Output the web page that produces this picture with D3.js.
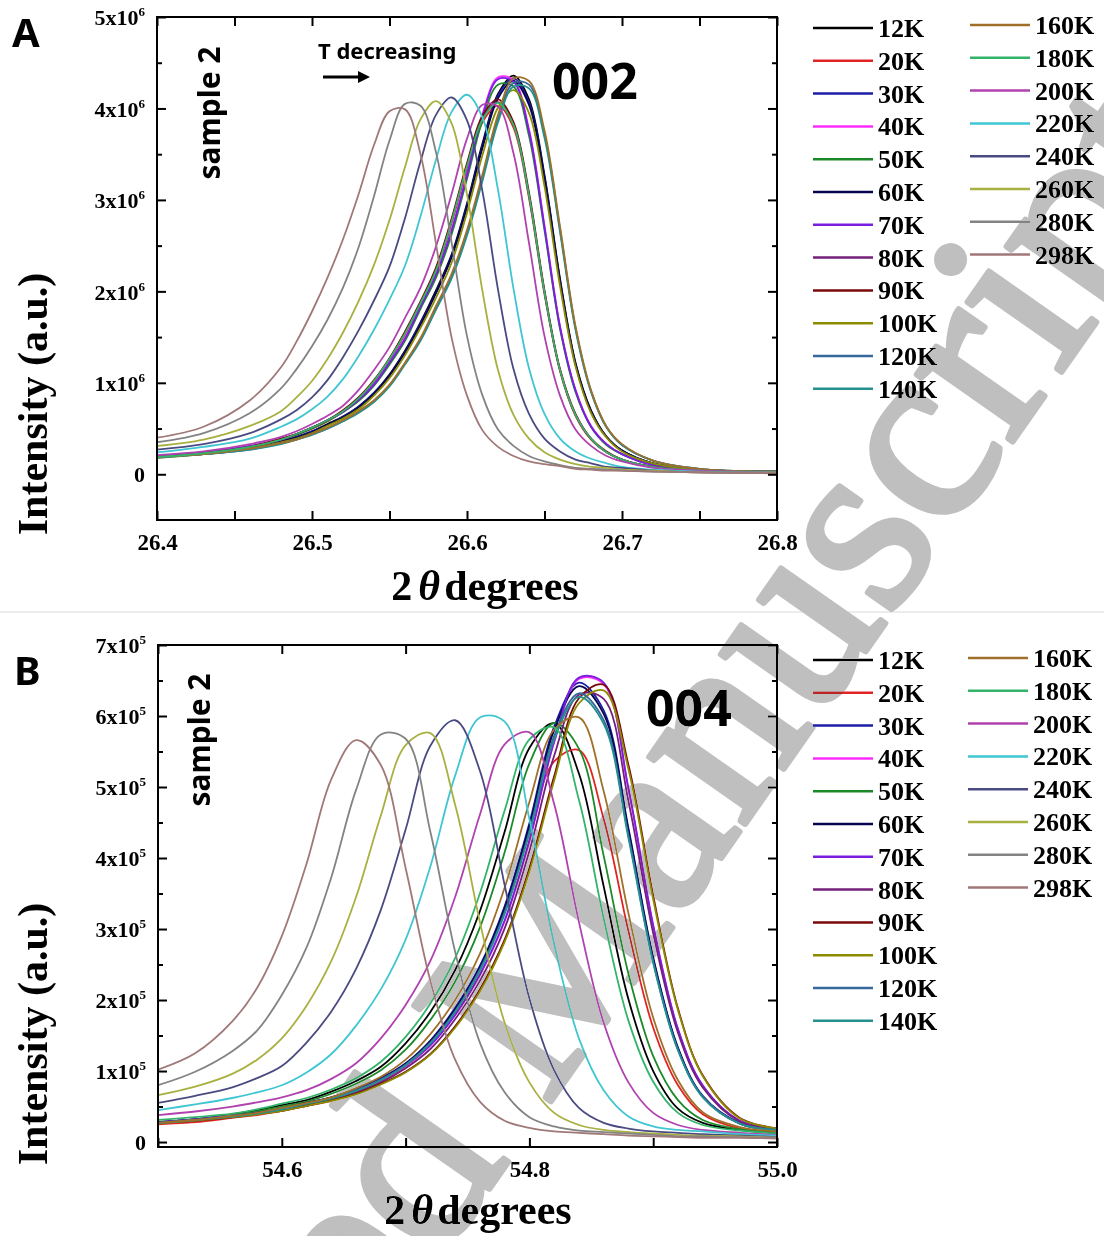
<!DOCTYPE html>
<html>
<head>
<meta charset="utf-8">
<script src="https://cdn.jsdelivr.net/npm/d3@7"></script>
<style>
  body { margin: 0; background: #fff; }
  svg { display: block; }
</style>
</head>
<body>
<svg id="fig" width="1104" height="1236"></svg>
<script>
// Temperatures and line colours (legend order)
const temps = ["12K","20K","30K","40K","50K","60K","70K","80K","90K","100K","120K","140K",
               "160K","180K","200K","220K","240K","260K","280K","298K"];
const lineColors = ["#000000","#e02424","#1c1ca8","#ff2cff","#1d8a2a","#06064e","#7a1ee0","#74207a",
                    "#7a0a0a","#8c8c00","#36689a","#23908f","#a0702a","#32b46a","#b042b0","#40c6d2",
                    "#4a4a82","#a8b040","#838383","#a07878"];

// (002) peak: 2theta grid and intensities in units of 1e6
const twoThetaA = [26.40,26.43,26.46,26.48,26.49,26.50,26.51,26.52,26.53,26.54,26.55,26.56,26.57,26.58,26.59,
                   26.60,26.61,26.62,26.63,26.64,26.65,26.66,26.67,26.68,26.69,26.70,26.72,26.75,26.80];
const A_12K  = [0.19,0.23,0.29,0.36,0.41,0.47,0.55,0.63,0.74,0.89,1.09,1.35,1.66,2.01,2.40,2.96,3.62,4.16,4.36,4.10,3.27,2.14,1.22,0.70,0.41,0.26,0.12,0.05,0.03];
const A_20K  = [0.19,0.23,0.30,0.38,0.44,0.50,0.58,0.69,0.83,1.01,1.25,1.53,1.85,2.22,2.74,3.34,3.85,4.03,3.79,3.02,1.97,1.13,0.64,0.38,0.24,0.16,0.08,0.04,0.02];
const A_30K  = [0.19,0.23,0.29,0.36,0.41,0.47,0.54,0.63,0.74,0.89,1.08,1.34,1.65,1.99,2.38,2.94,3.59,4.14,4.33,4.07,3.25,2.12,1.21,0.69,0.41,0.26,0.12,0.05,0.03];
const A_40K  = [0.20,0.24,0.31,0.39,0.44,0.51,0.59,0.69,0.81,0.99,1.23,1.49,1.84,2.19,2.67,3.29,3.94,4.34,4.31,3.77,2.72,1.62,0.92,0.53,0.33,0.22,0.11,0.05,0.02];
const A_50K  = [0.19,0.23,0.30,0.38,0.43,0.50,0.58,0.68,0.80,0.97,1.20,1.46,1.81,2.15,2.62,3.23,3.87,4.26,4.24,3.70,2.67,1.59,0.90,0.52,0.32,0.22,0.10,0.05,0.02];
const A_60K  = [0.19,0.22,0.28,0.36,0.40,0.46,0.54,0.62,0.73,0.88,1.08,1.33,1.63,1.98,2.37,2.92,3.57,4.11,4.30,4.04,3.23,2.11,1.20,0.69,0.41,0.26,0.12,0.05,0.03];
const A_70K  = [0.20,0.24,0.31,0.38,0.44,0.51,0.59,0.68,0.81,0.98,1.22,1.48,1.83,2.18,2.66,3.27,3.92,4.32,4.29,3.75,2.70,1.61,0.92,0.52,0.33,0.22,0.10,0.05,0.02];
const A_80K  = [0.19,0.23,0.30,0.38,0.44,0.51,0.59,0.69,0.83,1.02,1.26,1.55,1.87,2.24,2.77,3.38,3.89,4.07,3.83,3.05,1.99,1.14,0.65,0.39,0.24,0.16,0.08,0.04,0.02];
const A_90K  = [0.19,0.23,0.30,0.39,0.44,0.51,0.59,0.70,0.84,1.03,1.27,1.56,1.89,2.26,2.79,3.40,3.92,4.10,3.85,3.08,2.01,1.15,0.66,0.39,0.25,0.16,0.08,0.04,0.02];
const A_100K = [0.18,0.22,0.28,0.35,0.39,0.45,0.53,0.61,0.71,0.86,1.05,1.30,1.60,1.93,2.31,2.86,3.49,4.01,4.20,3.95,3.15,2.06,1.18,0.67,0.40,0.25,0.12,0.05,0.03];
const A_120K = [0.19,0.22,0.27,0.34,0.38,0.44,0.50,0.58,0.68,0.80,0.97,1.21,1.47,1.81,2.16,2.64,3.24,3.89,4.28,4.26,3.72,2.68,1.60,0.91,0.52,0.32,0.15,0.06,0.03];
const A_140K = [0.18,0.22,0.27,0.33,0.38,0.43,0.50,0.58,0.67,0.79,0.96,1.20,1.46,1.80,2.14,2.61,3.21,3.85,4.24,4.22,3.68,2.65,1.58,0.90,0.51,0.32,0.15,0.06,0.03];
const A_160K = [0.19,0.22,0.28,0.34,0.38,0.44,0.51,0.59,0.69,0.81,0.98,1.22,1.49,1.84,2.19,2.67,3.28,3.93,4.33,4.30,3.76,2.71,1.62,0.92,0.52,0.33,0.15,0.06,0.03];
const A_180K = [0.19,0.23,0.30,0.38,0.44,0.51,0.59,0.69,0.83,1.02,1.26,1.54,1.87,2.23,2.76,3.37,3.88,4.06,3.82,3.05,1.99,1.14,0.65,0.39,0.24,0.16,0.08,0.04,0.02];
const A_200K = [0.21,0.25,0.33,0.41,0.47,0.55,0.64,0.75,0.92,1.14,1.39,1.71,2.04,2.49,3.06,3.67,4.04,4.02,3.51,2.53,1.51,0.86,0.49,0.31,0.20,0.14,0.07,0.04,0.02];
const A_220K = [0.24,0.30,0.39,0.52,0.60,0.71,0.85,1.04,1.29,1.58,1.91,2.28,2.82,3.44,3.96,4.15,3.90,3.11,2.03,1.16,0.66,0.39,0.25,0.17,0.12,0.08,0.05,0.03,0.02];
const A_240K = [0.27,0.33,0.45,0.60,0.70,0.84,1.03,1.28,1.57,1.90,2.27,2.80,3.42,3.93,4.12,3.87,3.09,2.02,1.15,0.66,0.39,0.25,0.16,0.12,0.08,0.07,0.04,0.02,0.02];
const A_260K = [0.31,0.38,0.53,0.69,0.84,1.02,1.26,1.55,1.89,2.29,2.78,3.36,3.88,4.08,3.84,3.06,2.00,1.14,0.65,0.39,0.24,0.16,0.11,0.08,0.07,0.05,0.04,0.02,0.02];
const A_280K = [0.35,0.45,0.67,0.94,1.15,1.40,1.69,2.04,2.48,3.04,3.65,4.05,4.03,3.52,2.54,1.51,0.86,0.49,0.31,0.20,0.14,0.10,0.07,0.06,0.05,0.04,0.03,0.02,0.01];
const A_298K = [0.40,0.52,0.81,1.17,1.45,1.78,2.15,2.57,3.06,3.60,3.97,3.99,3.50,2.52,1.50,0.86,0.48,0.30,0.20,0.14,0.11,0.09,0.06,0.05,0.04,0.04,0.03,0.02,0.01];

// (004) peak: 2theta grid and intensities in units of 1e5
const twoThetaB = [54.50,54.53,54.56,54.58,54.60,54.62,54.64,54.66,54.68,54.70,54.72,54.74,
                   54.76,54.78,54.80,54.82,54.84,54.86,54.88,54.90,54.92,54.94,54.97,55.00];
const B_12K  = [0.28,0.32,0.39,0.45,0.52,0.59,0.71,0.86,1.06,1.39,1.83,2.42,3.25,4.37,5.55,5.90,5.19,3.60,2.01,1.00,0.47,0.27,0.17,0.13];
const B_20K  = [0.25,0.28,0.34,0.38,0.44,0.51,0.58,0.70,0.85,1.07,1.40,1.84,2.44,3.30,4.41,5.36,5.52,4.55,2.97,1.61,0.80,0.39,0.19,0.14];
const B_30K  = [0.28,0.32,0.37,0.42,0.47,0.55,0.63,0.75,0.90,1.11,1.43,1.89,2.48,3.32,4.49,5.85,6.47,6.08,4.42,2.60,1.33,0.65,0.27,0.18];
const B_40K  = [0.28,0.32,0.36,0.41,0.46,0.54,0.62,0.73,0.87,1.07,1.36,1.79,2.35,3.11,4.24,5.63,6.52,6.45,4.97,3.05,1.59,0.79,0.30,0.19];
const B_50K  = [0.28,0.32,0.38,0.43,0.50,0.57,0.68,0.82,1.01,1.30,1.72,2.26,3.02,4.08,5.33,5.90,5.54,4.03,2.37,1.21,0.59,0.31,0.18,0.14];
const B_60K  = [0.28,0.32,0.37,0.41,0.47,0.55,0.63,0.74,0.89,1.10,1.42,1.87,2.46,3.29,4.45,5.80,6.42,6.03,4.39,2.58,1.32,0.64,0.26,0.17];
const B_70K  = [0.28,0.32,0.37,0.41,0.46,0.54,0.62,0.73,0.88,1.08,1.36,1.79,2.36,3.12,4.25,5.64,6.54,6.47,4.98,3.05,1.59,0.80,0.30,0.19];
const B_80K  = [0.27,0.31,0.35,0.40,0.45,0.52,0.60,0.70,0.84,1.04,1.31,1.73,2.27,3.01,4.10,5.44,6.30,6.24,4.80,2.94,1.54,0.77,0.29,0.18];
const B_90K  = [0.27,0.30,0.35,0.40,0.44,0.51,0.59,0.68,0.82,0.99,1.24,1.63,2.15,2.85,3.86,5.15,6.25,6.44,5.31,3.47,1.88,0.94,0.34,0.19];
const B_100K = [0.26,0.30,0.35,0.39,0.44,0.51,0.58,0.67,0.81,0.98,1.23,1.61,2.12,2.82,3.81,5.09,6.18,6.36,5.25,3.42,1.86,0.93,0.33,0.19];
const B_120K = [0.27,0.31,0.36,0.41,0.46,0.54,0.62,0.73,0.88,1.09,1.40,1.84,2.43,3.24,4.38,5.72,6.32,5.94,4.32,2.54,1.30,0.64,0.26,0.17];
const B_140K = [0.27,0.31,0.36,0.40,0.46,0.54,0.61,0.72,0.87,1.08,1.39,1.83,2.41,3.21,4.35,5.67,6.27,5.89,4.28,2.52,1.29,0.63,0.26,0.17];
const B_160K = [0.27,0.31,0.37,0.41,0.48,0.55,0.63,0.76,0.92,1.16,1.52,2.00,2.65,3.58,4.79,5.81,5.98,4.94,3.22,1.75,0.87,0.42,0.21,0.15];
const B_180K = [0.31,0.35,0.40,0.46,0.54,0.62,0.74,0.90,1.13,1.48,1.95,2.59,3.50,4.67,5.67,5.84,4.82,3.15,1.71,0.85,0.41,0.24,0.16,0.12];
const B_200K = [0.38,0.43,0.50,0.56,0.63,0.73,0.89,1.11,1.46,1.93,2.55,3.45,4.61,5.60,5.77,4.76,3.10,1.68,0.84,0.41,0.24,0.17,0.13,0.10];
const B_220K = [0.45,0.53,0.62,0.70,0.80,0.98,1.24,1.64,2.15,2.85,3.88,5.16,5.98,5.92,4.55,2.79,1.46,0.73,0.36,0.22,0.17,0.15,0.11,0.09];
const B_240K = [0.55,0.65,0.77,0.90,1.07,1.40,1.84,2.44,3.27,4.40,5.58,5.94,5.23,3.62,2.02,1.01,0.48,0.27,0.19,0.15,0.13,0.11,0.09,0.07];
const B_260K = [0.66,0.78,0.96,1.16,1.46,1.92,2.55,3.45,4.60,5.59,5.76,4.75,3.10,1.68,0.84,0.41,0.24,0.17,0.14,0.12,0.10,0.09,0.08,0.06];
const B_280K = [0.80,0.99,1.28,1.57,2.07,2.74,3.73,4.96,5.74,5.68,4.37,2.68,1.40,0.70,0.35,0.22,0.16,0.14,0.12,0.10,0.08,0.08,0.07,0.06];
const B_298K = [1.02,1.25,1.70,2.17,2.90,3.92,5.11,5.66,5.31,3.86,2.27,1.16,0.57,0.30,0.20,0.15,0.13,0.11,0.09,0.08,0.07,0.06,0.06,0.05];

const seriesA = [A_12K,A_20K,A_30K,A_40K,A_50K,A_60K,A_70K,A_80K,A_90K,A_100K,A_120K,A_140K,
                 A_160K,A_180K,A_200K,A_220K,A_240K,A_260K,A_280K,A_298K];
const seriesB = [B_12K,B_20K,B_30K,B_40K,B_50K,B_60K,B_70K,B_80K,B_90K,B_100K,B_120K,B_140K,
                 B_160K,B_180K,B_200K,B_220K,B_240K,B_260K,B_280K,B_298K];

// Tick labels
const xTicksA = [26.4, 26.5, 26.6, 26.7, 26.8];
const xMinorA = [26.45, 26.55, 26.65, 26.75];
const yTicksA = [0, 1, 2, 3, 4, 5];
const xTicksB = [54.6, 54.8, 55.0];
const xMinorB = [54.5, 54.7, 54.9];
const yTicksB = [0, 1, 2, 3, 4, 5, 6, 7];

const SERIF = '"Liberation Serif", "Times New Roman", serif';
const SANS = '"Noto Sans", "Open Sans", Arial, sans-serif';

const svg = d3.select("#fig");
svg.append("rect").attr("width", 1104).attr("height", 1236).attr("fill", "#fff");

// thin separator between the two panels
svg.append("line").attr("x1", 0).attr("x2", 1104).attr("y1", 612).attr("y2", 612)
   .attr("stroke", "#dadada").attr("stroke-width", 1);

function drawPanel(p) {
    const x = d3.scaleLinear().domain(p.xDomain).range([p.left, p.right]);
    const y = d3.scaleLinear().domain(p.yDomain).range([p.bottom, p.top]);
    const g = svg.append("g");

    const clipId = "clip" + p.name;
    g.append("clipPath").attr("id", clipId).append("rect")
        .attr("x", p.left).attr("y", p.top)
        .attr("width", p.right - p.left).attr("height", p.bottom - p.top);

    // curves
    const line = d3.line()
        .x((d, i) => x(p.xs[i]))
        .y(d => y(d))
        .curve(d3.curveCatmullRom.alpha(0.5));
    g.append("g").attr("clip-path", `url(#${clipId})`)
        .selectAll("path")
        .data(p.series)
        .join("path")
        .attr("fill", "none")
        .attr("stroke", (d, i) => lineColors[i])
        .attr("stroke-width", 1.8)
        .attr("d", line);

    // axes, ticks pointing inward
    const xAll = p.xTicks.concat(p.xMinor);
    const yMinor = p.yTicks.slice(0, -1).map(v => v + 0.5);
    const fmtX = d3.format(".1f");

    const styleAxis = sel => {
        sel.select(".domain").remove();
        sel.selectAll(".tick line").attr("stroke", "#000").attr("stroke-width", 2);
    };

    g.append("g").attr("transform", `translate(0,${p.bottom})`)
        .call(d3.axisBottom(x).tickValues(xAll).tickSize(-9).tickPadding(14)
            .tickFormat(d => p.xTicks.includes(d) ? fmtX(d) : ""))
        .call(styleAxis)
        .call(a => a.selectAll("text").attr("font-family", SERIF).attr("font-weight", "bold")
            .attr("font-size", 23).attr("fill", "#000"));
    g.append("g").attr("transform", `translate(0,${p.top})`)
        .call(d3.axisTop(x).tickValues(xAll).tickSize(-9).tickFormat(""))
        .call(styleAxis);

    g.append("g").attr("transform", `translate(${p.left},0)`)
        .call(d3.axisLeft(y).tickValues(p.yTicks).tickSize(-9).tickPadding(12).tickFormat(""))
        .call(styleAxis)
        .call(a => a.selectAll(".tick").append("text")
            .attr("x", -12).attr("dy", "0.35em")
            .attr("text-anchor", "end")
            .attr("font-family", SERIF).attr("font-weight", "bold")
            .attr("font-size", 22).attr("fill", "#000")
            .each(function (d) {
                const t = d3.select(this);
                if (d === 0) { t.text("0"); return; }
                t.append("tspan").text(d + "x10");
                t.append("tspan").attr("dy", -9).attr("font-size", 13).text(p.exp);
            }));
    g.append("g").attr("transform", `translate(${p.left},0)`)
        .call(d3.axisLeft(y).tickValues(yMinor).tickSize(-5).tickFormat(""))
        .call(styleAxis);
    g.append("g").attr("transform", `translate(${p.right},0)`)
        .call(d3.axisRight(y).tickValues(p.yTicks).tickSize(-9).tickFormat(""))
        .call(styleAxis);
    g.append("g").attr("transform", `translate(${p.right},0)`)
        .call(d3.axisRight(y).tickValues(yMinor).tickSize(-5).tickFormat(""))
        .call(styleAxis);

    // frame
    g.append("rect")
        .attr("x", p.left).attr("y", p.top)
        .attr("width", p.right - p.left).attr("height", p.bottom - p.top)
        .attr("fill", "none").attr("stroke", "#000").attr("stroke-width", 2);

    // axis titles
    const xt = g.append("text")
        .attr("x", p.xTitle[0]).attr("y", p.xTitle[1])
        .attr("text-anchor", "middle")
        .attr("font-family", SERIF).attr("font-weight", "bold").attr("font-size", 42);
    xt.append("tspan").text("2");
    xt.append("tspan").attr("dx", 6).attr("font-style", "italic").text("\u03B8");
    xt.append("tspan").attr("dx", 4).text("degrees");

    g.append("text")
        .attr("transform", `translate(${p.yTitle[0]},${p.yTitle[1]}) rotate(-90)`)
        .attr("text-anchor", "middle")
        .attr("font-family", SERIF).attr("font-weight", "bold").attr("font-size", 42)
        .text("Intensity (a.u.)");

    // panel letter, sample tag, reflection label
    g.append("text").attr("x", p.letter[0]).attr("y", p.letter[1])
        .attr("font-family", SANS).attr("font-weight", "bold").attr("font-size", 40)
        .text(p.name);
    g.append("text")
        .attr("transform", `translate(${p.sample[0]},${p.sample[1]}) rotate(-90)`)
        .attr("text-anchor", "middle")
        .attr("font-family", SANS).attr("font-weight", "bold").attr("font-size", 30)
        .text("sample 2");
    g.append("text").attr("x", p.hkl[0]).attr("y", p.hkl[1])
        .attr("font-family", SANS).attr("font-weight", "bold").attr("font-size", 50)
        .text(p.hklText);

    // legend, two columns
    const leg = g.append("g");
    temps.forEach((t, i) => {
        const col = i < 12 ? 0 : 1;
        const row = col === 0 ? i : i - 12;
        const c = p.legendCols[col];
        const yy = c.y0 + row * 32.8;
        leg.append("line")
            .attr("x1", c.x).attr("x2", c.x + 60).attr("y1", yy).attr("y2", yy)
            .attr("stroke", lineColors[i]).attr("stroke-width", 2.5);
        leg.append("text")
            .attr("x", c.x + 65).attr("y", yy + 9)
            .attr("font-family", SERIF).attr("font-weight", "bold").attr("font-size", 26)
            .text(t);
    });
    return g;
}

const gA = drawPanel({
    name: "A", xs: twoThetaA, series: seriesA,
    xDomain: [26.4, 26.8], yDomain: [-0.5, 5],
    left: 157, right: 777, top: 17, bottom: 520,
    xTicks: xTicksA, xMinor: xMinorA, yTicks: yTicksA, exp: "6",
    xTitle: [485, 600], yTitle: [47, 404],
    letter: [12, 47], sample: [220, 113], hkl: [552, 99], hklText: "002",
    legendCols: [{ x: 813, y0: 28 }, { x: 970, y0: 25 }]
});

// "T decreasing" arrow
gA.append("text").attr("x", 318).attr("y", 59)
    .attr("font-family", SANS).attr("font-weight", "bold").attr("font-size", 22)
    .text("T decreasing");
gA.append("line").attr("x1", 323).attr("x2", 360).attr("y1", 77).attr("y2", 77)
    .attr("stroke", "#000").attr("stroke-width", 3);
gA.append("path").attr("d", "M358,71 L370,77 L358,83 Z").attr("fill", "#000");

drawPanel({
    name: "B", xs: twoThetaB, series: seriesB,
    xDomain: [54.5, 55.0], yDomain: [-0.07, 7],
    left: 158, right: 777, top: 645, bottom: 1147,
    xTicks: xTicksB, xMinor: xMinorB, yTicks: yTicksB, exp: "5",
    xTitle: [478, 1224], yTitle: [47, 1034],
    letter: [14, 685], sample: [210, 740], hkl: [646, 726], hklText: "004",
    legendCols: [{ x: 813, y0: 660 }, { x: 968, y0: 658 }]
});

// "Accepted Manuscript" watermark
svg.append("text")
    .attr("transform", "translate(-42,1948) rotate(-55)")
    .attr("font-family", SERIF).attr("font-size", 255)
    .attr("fill", "#bfbfbf")
    .attr("stroke", "#bfbfbf").attr("stroke-width", 6).attr("stroke-linejoin", "round")
    .style("mix-blend-mode", "darken")
    .text("Accepted Manuscript");
</script>
</body>
</html>
